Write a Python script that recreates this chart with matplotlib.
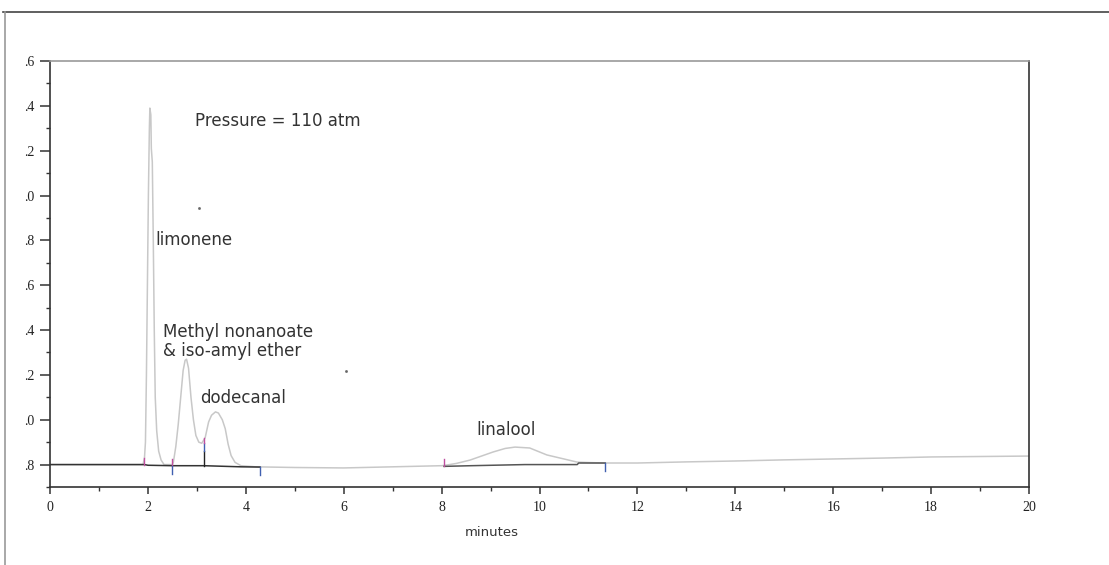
import matplotlib
matplotlib.use("Agg")
import matplotlib.pyplot as plt
from matplotlib.lines import Line2D
from matplotlib.ticker import MultipleLocator, FixedLocator

# ---- data ----
time_min = [0.0, 1.0, 1.90, 1.93, 1.95, 1.97, 1.99, 2.01, 2.03, 2.04, 2.06, 2.07,
            2.09, 2.11, 2.13, 2.15, 2.18, 2.22, 2.27, 2.33, 2.45, 2.50,
            2.52, 2.57, 2.62, 2.67, 2.72, 2.76, 2.79, 2.83, 2.88, 2.93, 2.98,
            3.04, 3.10, 3.17, 3.24, 3.30, 3.38, 3.44, 3.52, 3.58, 3.64, 3.70,
            3.78, 3.90, 4.2, 5.0, 6.0, 7.0, 8.0, 8.05, 8.3, 8.58, 9.05, 9.3,
            9.5, 9.8, 10.15, 10.5, 10.77, 11.0, 11.34, 12.0, 13.0, 14.0, 15.0,
            16.0, 17.0, 18.0, 19.0, 20.0]
signal = [0.80, 0.80, 0.80, 0.83, 0.90, 1.20, 1.60, 2.00, 2.30, 2.39, 2.36, 2.21,
          2.15, 1.80, 1.40, 1.10, 0.95, 0.86, 0.82, 0.80, 0.80, 0.80,
          0.81, 0.88, 0.98, 1.10, 1.22, 1.265, 1.27, 1.23, 1.10, 1.00, 0.93,
          0.90, 0.895, 0.92, 0.99, 1.02, 1.035, 1.03, 1.00, 0.96, 0.89, 0.84,
          0.81, 0.795, 0.79, 0.787, 0.785, 0.79, 0.795, 0.796, 0.805, 0.82, 0.856, 0.872,
          0.878, 0.874, 0.843, 0.825, 0.811, 0.809, 0.807, 0.807, 0.812, 0.816, 0.821,
          0.825, 0.829, 0.834, 0.836, 0.838]

# integration baselines
base1_t = [0.0, 1.93, 2.0, 2.5, 3.14, 3.9, 4.29]
base1_v = [0.80, 0.80, 0.797, 0.795, 0.795, 0.79, 0.789]
base2_t = [8.05, 8.6, 9.7, 10.77, 10.8, 11.34]
base2_v = [0.792, 0.795, 0.80, 0.80, 0.807, 0.807]

# peak start / end markers
start_marks = [1.93, 2.49, 8.05]
start_levels = [0.80, 0.795, 0.794]
end_marks = [2.49, 4.29, 11.34]
end_levels = [0.795, 0.789, 0.807]
split_time = 3.14
split_levels = [0.794, 0.862, 0.896, 0.918]

y_ticks = [0.8, 1.0, 1.2, 1.4, 1.6, 1.8, 2.0, 2.2, 2.4, 2.6]
y_labels = [".8", ".0", ".2", ".4", ".6", ".8", ".0", ".2", ".4", ".6"]
x_ticks = [0, 2, 4, 6, 8, 10, 12, 14, 16, 18, 20]

labels = [
    ("Pressure = 110 atm", 2.96, 2.331),
    ("limonene", 2.15, 1.80),
    ("Methyl nonanoate", 2.31, 1.392),
    ("& iso-amyl ether", 2.31, 1.305),
    ("dodecanal", 3.06, 1.097),
    ("linalool", 8.72, 0.954),
]
dots_t = [3.04, 6.05]
dots_v = [1.943, 1.217]

# ---- figure ----
fig = plt.figure(figsize=(11.09, 5.65), dpi=100)
fig.patch.set_facecolor("white")

# outer frame
fig.add_artist(Line2D([3 / 1109, 1.0], [1 - 12 / 565, 1 - 12 / 565],
                      transform=fig.transFigure, color="#444444", lw=1.2))
fig.add_artist(Line2D([5 / 1109, 5 / 1109], [0.0, 1 - 12 / 565],
                      transform=fig.transFigure, color="#999999", lw=1.2))

ax = fig.add_axes([50 / 1109, 1 - 487 / 565, (1029 - 50) / 1109, (487 - 61) / 565])
ax.set_xlim(0, 20)
ax.set_ylim(0.7, 2.6)

ax.plot(time_min, signal, color="#c8c8c8", lw=1.1, zorder=2)
ax.plot(base1_t, base1_v, color="#333333", lw=1.1, zorder=3)
ax.plot(base2_t, base2_v, color="#555555", lw=1.1, zorder=3)

for t, lv in zip(start_marks, start_levels):
    ax.plot([t, t], [lv, lv + 0.03], color="#c050a0", lw=1.0, zorder=4)
for t, lv in zip(end_marks, end_levels):
    ax.plot([t, t], [lv, lv - 0.035], color="#4060b0", lw=1.0, zorder=4)
ax.plot([split_time, split_time], split_levels[0:2], color="#222222", lw=1.0, zorder=4)
ax.plot([split_time, split_time], split_levels[1:3], color="#4060b0", lw=1.0, zorder=4)
ax.plot([split_time, split_time], split_levels[2:4], color="#c050a0", lw=1.0, zorder=4)

ax.plot(dots_t, dots_v, ls="none", marker="s", ms=0.9, color="#666666")

for txt, x, y in labels:
    ax.text(x, y, txt, fontsize=12, family="DejaVu Sans", color="#333333",
            ha="left", va="center")

fig.text(492 / 1109, 1 - 532 / 565, "minutes", fontsize=9.5, family="DejaVu Sans",
         color="#333333", ha="center", va="center")

# axes styling
ax.spines["top"].set_color("#999999")
ax.spines["right"].set_color("#333333")
ax.spines["left"].set_color("#333333")
ax.spines["bottom"].set_color("#333333")
for s in ax.spines.values():
    s.set_linewidth(1.2)

ax.xaxis.set_major_locator(FixedLocator(x_ticks))
ax.xaxis.set_minor_locator(MultipleLocator(1))
ax.set_xticklabels([str(v) for v in x_ticks])
ax.yaxis.set_major_locator(FixedLocator(y_ticks))
ax.yaxis.set_minor_locator(MultipleLocator(0.1))
ax.set_yticklabels(y_labels)

ax.tick_params(axis="x", which="major", direction="out", length=5, width=1.1,
               color="#333333", pad=5, labelsize=10)
ax.tick_params(axis="x", which="minor", direction="out", length=3, width=1.0, color="#333333")
ax.tick_params(axis="y", which="major", direction="out", length=7, width=1.1,
               color="#333333", pad=4, labelsize=10)
ax.tick_params(axis="y", which="minor", direction="out", length=3, width=1.0, color="#333333")
for lab in ax.get_xticklabels() + ax.get_yticklabels():
    lab.set_family("Liberation Serif")
    lab.set_color("#222222")

fig.savefig("out.png", dpi=100, facecolor="white")
